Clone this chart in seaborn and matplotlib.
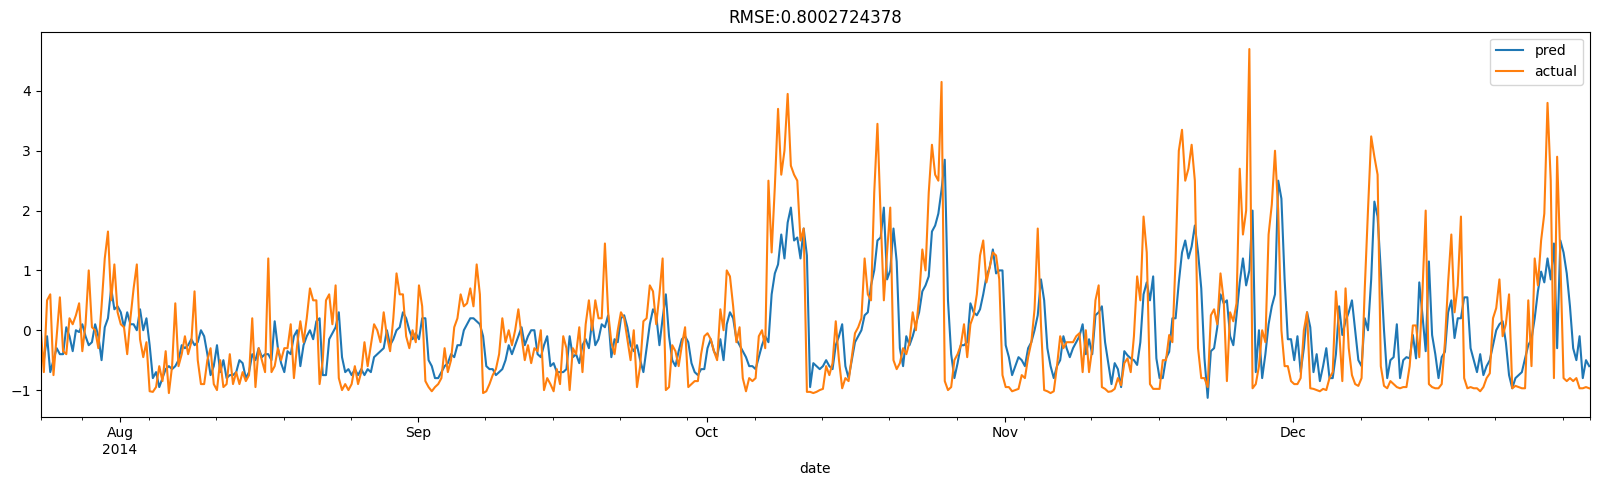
import pandas as pd
import seaborn as sns
import matplotlib.pyplot as plt
import matplotlib.dates as mdates

# Valores (una lectura cada 8 horas desde 2014-07-23 18:00)
start = "2014-07-23 18:00"
end = "2014-12-31 20:00"
step = "8h"

pred = [
    # finales de julio - mediados de agosto
    -0.25, -0.5, -0.1, -0.7, -0.5, -0.3, -0.4, -0.4, 0.05, -0.1, -0.35, 0.0, -0.03,
    0.1, -0.1, -0.25, -0.2, 0.1, -0.1, -0.5, 0.05, 0.2, 0.7, 0.35, 0.4, 0.3,
    0.05, 0.3, 0.1, 0.1, 0.0, 0.35, 0.0, 0.2, -0.25, -0.8, -0.7, -0.95, -0.8,
    -0.65, -0.6, -0.65, -0.6, -0.5, -0.25, -0.3, -0.25, -0.15, -0.25, -0.2, 0.0, -0.1,
    -0.4, -0.75, -0.6, -0.25, -0.7, -0.5, -0.8, -0.75, -0.75, -0.7, -0.5, -0.55, -0.8,
    -0.7, -0.4, -0.5, -0.3, -0.45, -0.4, -0.4, -0.5, 0.15, -0.3, -0.55, -0.7, -0.35,
    # mediados de agosto - mediados de septiembre
    -0.4, -0.1, 0.0, -0.6, -0.25, -0.1, 0.0, -0.15, 0.15, 0.2, -0.75, -0.75, -0.15,
    -0.05, 0.05, 0.3, -0.45, -0.7, -0.65, -0.75, -0.65, -0.75, -0.65, -0.75, -0.65, -0.7,
    -0.45, -0.4, -0.35, -0.3, 0.0, -0.25, -0.15, 0.0, 0.05, 0.3, 0.2, 0.0, -0.15,
    -0.05, -0.15, 0.2, 0.2, -0.5, -0.6, -0.8, -0.8, -0.7, -0.6, -0.55, -0.4, -0.45,
    -0.25, -0.25, 0.0, 0.1, 0.2, 0.2, 0.15, 0.1, -0.1, -0.6, -0.65, -0.65, -0.75,
    -0.7, -0.65, -0.5, -0.25, -0.4, -0.25, -0.1, 0.05, -0.25, -0.1, 0.0, 0.0, -0.4,
    # mediados de septiembre - comienzos de octubre
    -0.45, -0.25, -0.1, -0.6, -0.55, -0.7, -0.7, -0.7, -0.65, -0.1, -0.45, -0.4, -0.55,
    -0.25, -0.15, -0.3, 0.15, -0.25, -0.15, 0.1, 0.05, 0.25, -0.45, -0.15, -0.2, 0.2,
    0.25, 0.05, -0.25, -0.35, -0.25, -0.5, -0.7, -0.3, 0.1, 0.35, 0.25, -0.25, 0.2,
    0.6, -0.1, -0.5, -0.6, -0.35, -0.15, -0.1, -0.2, -0.55, -0.7, -0.75, -0.65, -0.65,
    -0.3, -0.15, -0.35, -0.45, -0.15, -0.5, 0.1, 0.3, 0.2, -0.15, -0.25, -0.35, -0.45,
    -0.6, -0.6, -0.65, -0.45, -0.25, -0.1, -0.2, 0.6, 0.95, 1.1, 1.6, 1.2, 1.8,
    # octubre
    2.05, 1.5, 1.55, 1.2, 1.7, 1.25, -0.95, -0.55, -0.6, -0.65, -0.6, -0.5, -0.6,
    -0.65, -0.25, -0.1, 0.1, -0.6, -0.8, -0.5, -0.2, -0.1, 0.0, 0.25, 0.3, 0.75,
    1.0, 1.5, 1.55, 2.05, 0.85, 1.0, 1.7, 1.15, -0.3, -0.6, -0.1, -0.25, -0.1,
    0.1, 0.3, 0.65, 0.75, 0.9, 1.65, 1.75, 1.95, 2.35, 2.85, 0.5, -0.4, -0.8,
    -0.55, -0.25, -0.25, -0.2, 0.45, 0.3, 0.25, 0.35, 0.6, 0.9, 1.05, 1.35, 0.95,
    1.0, 1.0, -0.25, -0.45, -0.75, -0.6, -0.45, -0.5, -0.6, -0.3, -0.2, 0.0, 0.25,
    # noviembre
    0.85, 0.5, -0.3, -0.6, -0.8, -0.6, -0.5, -0.1, -0.3, -0.45, -0.3, -0.2, -0.1,
    0.1, -0.4, -0.15, -0.4, 0.25, 0.3, 0.4, -0.2, -0.55, -0.9, -0.55, -0.65, -0.95,
    -0.35, -0.42, -0.47, -0.5, -0.58, -0.2, 0.6, 0.8, 0.5, 0.9, -0.47, -0.8, -0.8,
    -0.47, -0.36, 0.2, 0.2, 0.8, 1.3, 1.5, 1.2, 1.4, 1.75, 1.3, 0.7, -0.47, -1.13,
    -0.35, -0.3, 0.05, 0.6, 0.45, 0.5, -0.1, -0.25, 0.25, 0.8, 1.2, 0.75, 1.0,
    2.0, -0.7, 0.0, -0.8, -0.4, 0.1, 0.4, 0.6, 2.5, 2.2, 0.85, -0.15,
    # diciembre
    -0.15, -0.5, -0.1, -0.7, -0.3, 0.3, 0.05, -0.7, -0.4, -0.85, -0.6, -0.3, -0.8,
    -0.8, -0.4, 0.4, -0.08, 0.15, 0.3, 0.5, 0.0, -0.5, -0.6, 0.2, 0.0, 0.85,
    2.15, 1.9, 1.0, 0.0, -0.8, -0.5, -0.45, 0.1, -0.8, -0.5, -0.45, -0.47, -0.08,
    -0.47, 0.8, 0.25, -0.35, 1.15, -0.08, -0.4, -0.8, -0.45, -0.36, 0.3, 0.5, -0.13,
    0.2, 0.2, 0.55, 0.55, -0.3, -0.5, -0.7, -0.4, -0.75, -0.6, -0.5, -0.25, 0.0,
    0.1, 0.15, -0.2, -0.75, -0.97, -0.8, -0.75, -0.7, -0.47, -0.25, -0.15, 0.2, 0.65,
    0.98, 0.8, 1.2, 0.85, 1.45, -0.3, 1.5, 1.3, 0.95, 0.4,
    -0.3, -0.5, -0.1, -0.8, -0.5, -0.6,
]

actual = [
    # finales de julio - mediados de agosto
    0.05, -0.7, 0.5, 0.6, -0.75, -0.1, 0.55, -0.35, -0.4, 0.2, 0.1, 0.25, 0.45,
    -0.35, 0.1, 1.0, 0.05, 0.0, -0.3, 0.4, 1.2, 1.65, 0.5, 1.1, 0.3, 0.1,
    0.05, -0.4, 0.2, 0.7, 1.1, -0.15, -0.45, -0.2, -1.02, -1.03, -0.95, -0.6, -0.85,
    -0.35, -1.05, -0.6, 0.45, -0.6, -0.4, -0.1, -0.4, -0.2, 0.65, -0.5, -0.9, -0.9,
    -0.5, -0.3, -0.9, -1.0, -0.5, -0.95, -0.9, -0.4, -0.9, -0.7, -0.9, -0.7, -0.85,
    -0.75, 0.2, -0.95, -0.3, -0.5, -0.7, 1.2, -0.7, -0.6, -0.3, -0.5, -0.3, -0.3,
    # mediados de agosto - mediados de septiembre
    0.1, -0.8, -0.25, 0.15, -0.2, 0.2, 0.7, 0.5, 0.5, -0.9, -0.5, 0.5, 0.6,
    0.1, 0.75, -0.8, -1.0, -0.9, -1.0, -0.9, -0.6, -0.9, -0.7, -0.2, -0.6, -0.25,
    0.1, 0.0, -0.2, 0.3, -0.1, -0.35, 0.2, 0.95, 0.6, 0.6, -0.1, -0.3, 0.0,
    -0.2, 0.75, 0.4, -0.85, -0.95, -1.02, -0.95, -0.9, -0.8, -0.3, -0.7, -0.5, 0.05,
    0.2, 0.6, 0.4, 0.45, 0.7, 0.4, 1.1, 0.6, -1.05, -1.02, -0.9, -0.75, -0.65,
    -0.4, 0.2, -0.2, 0.0, -0.25, 0.0, 0.35, -0.1, -0.5, -0.25, -0.55, -0.3, -0.35,
    # mediados de septiembre - comienzos de octubre
    0.0, -1.0, -0.8, -0.9, -1.02, -0.65, -0.9, -0.1, -0.3, -1.0, -0.3, -0.4, 0.05,
    -0.7, 0.1, 0.5, 0.0, 0.5, 0.2, 0.2, 1.45, 0.3, -0.2, -0.4, 0.0, 0.3,
    0.2, -0.15, -0.5, 0.0, -0.95, -0.6, 0.15, 0.2, 0.75, 0.65, 0.1, 0.6, 1.2,
    -1.0, -0.95, -0.25, -0.35, -0.6, -0.25, 0.05, -0.95, -0.9, -0.85, -0.85, -0.4, -0.1,
    -0.05, -0.15, -0.35, -0.5, 0.35, 0.0, 1.0, 0.9, 0.4, -0.2, 0.05, -0.8, -1.02,
    -0.8, -0.85, -0.8, -0.1, 0.0, -0.3, 2.5, 1.3, 2.4, 3.7, 2.6, 3.0, 3.95,
    # octubre
    2.75, 2.6, 2.5, 1.5, 1.7, -1.03, -1.03, -1.05, -1.03, -1.0, -0.98, -0.6, -0.75,
    -0.55, 0.15, -0.5, -0.97, -0.8, -0.85, -0.45, -0.05, 0.05, 0.2, 1.2, 0.6, 0.5,
    2.3, 3.45, 1.9, 0.5, 1.3, 2.05, -0.5, -0.65, -0.55, -0.3, -0.4, -0.2, 0.3,
    0.0, 0.55, 1.35, 1.0, 2.3, 3.1, 2.6, 2.5, 4.15, -0.85, -1.0, -0.95, -0.5, -0.4,
    -0.25, 0.1, -0.45, 0.1, 0.25, 0.6, 1.25, 1.5, 0.8, 1.05, 1.3, 1.25, 0.85,
    -0.75, -0.95, -0.95, -1.02, -1.0, -0.98, -0.75, -0.8, -0.45, -0.2, 0.35, 1.7,
    # noviembre
    0.1, -1.0, -1.02, -1.05, -1.02, -0.6, -0.1, -0.3, -0.2, -0.2, -0.2, -0.1, -0.05,
    -0.7, 0.0, -0.7, -0.3, 0.5, 0.75, -0.95, -0.98, -1.03, -1.02, -0.98, -0.8, -0.92,
    -0.55, -0.47, -0.7, -0.1, 0.9, 0.5, 1.9, 1.3, -0.9, -0.98, -0.98, -0.98, -0.5,
    -0.5, -0.08, -0.2, 1.2, 3.0, 3.35, 2.5, 2.7, 3.1, 2.5, -0.3, -0.8, -0.8, -0.95,
    0.25, 0.35, 0.1, 0.95, 0.5, -0.85, 0.3, 0.15, 0.45, 2.7, 1.6, 2.0, 4.7,
    -0.97, -0.9, -0.6, 0.0, -0.2, 1.6, 2.1, 3.0, 2.0, 0.0, -0.6, -0.6,
    # diciembre
    -0.85, -0.9, -0.9, -0.8, 0.0, 0.3, -0.97, -0.98, -1.0, -1.02, -0.98, -1.0, -0.8,
    -0.7, 0.65, 0.0, -0.85, 0.7, -0.3, -0.75, -0.9, -0.93, -0.8, 0.7, 2.0, 3.24,
    2.9, 2.6, -0.6, -0.93, -0.97, -0.85, -0.9, -0.95, -0.97, -0.95, -0.95, -0.6, 0.08,
    0.08, -0.45, 0.65, 2.0, -0.9, -0.95, -0.97, -0.97, -0.9, -0.2, 0.8, 1.6, 0.3,
    0.75, 1.9, -0.8, -0.97, -0.95, -0.97, -0.97, -1.02, -0.95, -0.8, -0.72, 0.2, 0.37,
    0.85, -0.1, 0.1, 0.6, -0.97, -0.93, -0.95, -0.97, -0.97, 0.5, -0.6, 1.2, 0.75,
    1.5, 1.95, 3.8, 2.5, -0.8, 2.9, 1.2, -0.8, -0.85, -0.8,
    -0.85, -0.8, -0.97, -0.97, -0.95, -0.97,
]

month_ticks = ["2014-08-01", "2014-09-01", "2014-10-01", "2014-11-01", "2014-12-01"]
month_labels = ["Aug\n2014", "Sep", "Oct", "Nov", "Dec"]
title = "RMSE:0.8002724378"

assert len(pred) == len(actual), (len(pred), len(actual))
df = pd.DataFrame({
    "date": pd.date_range(start, periods=len(pred), freq=step),
    "pred": pred,
    "actual": actual,
})

fig, ax = plt.subplots(figsize=(16, 4.86), dpi=100)
sns.lineplot(data=df, x="date", y="pred", label="pred", color="#1f77b4", ax=ax)
sns.lineplot(data=df, x="date", y="actual", label="actual", color="#ff7f0e", ax=ax)

# ejes al estilo de pandas: meses como ticks mayores, lunes como menores
x0, x1 = pd.Timestamp(start), pd.Timestamp(end)
ax.set_xlim(x0, x1)
ax.set_ylim(-1.445, 4.99)
ax.set_xticks(mdates.date2num(pd.to_datetime(month_ticks).to_pydatetime()))
ax.set_xticklabels(month_labels)
minor = [x0] + list(pd.date_range("2014-07-28", "2014-12-29", freq="7D")) + [x1]
ax.set_xticks(mdates.date2num(pd.DatetimeIndex(minor).to_pydatetime()), minor=True)

ax.set_xlabel("date")
ax.set_ylabel("")
ax.set_title(title)
ax.legend(loc="upper right")

fig.subplots_adjust(left=0.0254, right=0.99375, bottom=0.1426, top=0.9348)
fig.savefig("out.png", dpi=100)
